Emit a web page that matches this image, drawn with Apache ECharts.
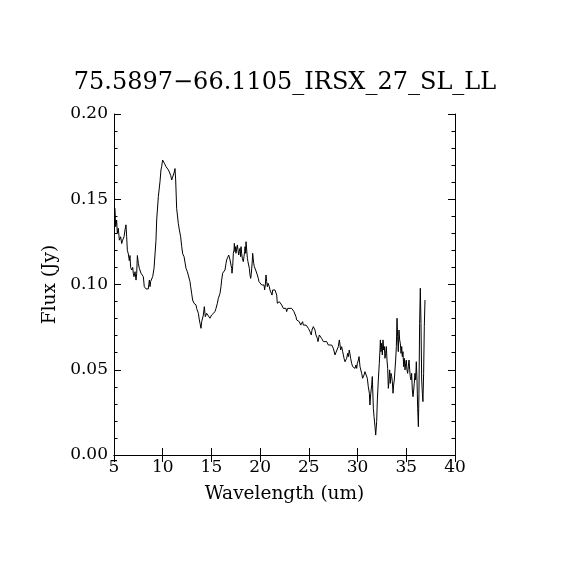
<!DOCTYPE html>
<html>
<head>
<meta charset="utf-8">
<script src="https://cdn.jsdelivr.net/npm/echarts@6/dist/echarts.min.js"></script>
<style>
html,body{margin:0;padding:0;background:#fff;}
#chart{width:570px;height:570px;}
</style>
</head>
<body>
<div id="chart"></div>
<script>
const titleText = "75.5897\u221266.1105_IRSX_27_SL_LL";
const xTickLabels = [5, 10, 15, 20, 25, 30, 35, 40];
const yTickLabels = ["0.00", "0.05", "0.10", "0.15", "0.20"];

const wavelength = [
  5.10,5.17,5.27,5.34,5.44,5.55,5.68,5.79,5.89,6.03,6.13,6.23,6.30,6.37,6.47,6.57,6.64,6.71,6.81,6.92,
  6.98,7.05,7.16,7.26,7.33,7.40,7.50,7.60,7.67,7.77,7.87,8.01,8.11,8.29,8.52,8.63,8.70,8.76,8.87,8.97,
  9.11,9.21,9.31,9.38,9.55,9.72,9.82,9.89,9.99,10.06,10.17,10.23,10.34,10.47,10.58,10.68,10.82,10.92,11.02,11.09,
  11.19,11.26,11.33,11.43,11.60,11.71,11.84,11.95,12.05,12.19,12.39,12.53,12.63,12.73,12.80,12.87,12.97,13.07,13.21,13.31,
  13.42,13.48,13.55,13.66,13.76,13.83,13.93,14.00,14.10,14.17,14.27,14.37,14.51,14.68,14.85,15.02,15.19,15.37,15.47,15.61,
  15.71,15.88,
  15.98,16.05,16.15,16.29,16.39,16.50,16.56,16.67,16.77,16.84,16.91,17.01,17.08,17.11,17.18,17.25,17.32,17.35,17.42,17.49,
  17.52,17.59,17.66,17.73,17.80,17.86,17.93,18.00,18.04,18.10,18.17,18.24,18.27,18.34,18.41,18.45,18.51,18.55,18.62,18.69,
  18.75,18.82,18.89,18.96,19.03,19.10,19.16,19.20,19.23,19.30,19.34,19.40,19.47,19.54,19.64,19.71,19.81,19.88,19.99,20.05,
  20.16,20.22,20.33,20.40,20.46,20.53,20.60,20.67,20.74,20.81,20.87,20.94,21.01,21.08,21.15,21.22,21.29,21.35,21.42,21.52,
  21.63,21.70,21.76,21.87,21.97,22.04,22.14,22.21,22.31,22.38,22.48,22.55,22.65,22.72,22.82,22.89,22.99,23.06,23.24,23.34,
  23.41,23.47,23.58,23.68,23.75,23.85,23.92,24.02,24.09,24.16,24.26,24.36,24.43,24.50,24.60,24.71,24.77,24.84,24.95,25.05,
  25.12,25.19,25.25,25.32,25.39,25.46,25.56,25.63,25.73,25.80,25.87,25.94,26.01,26.07,
  26.14,26.31,26.49,26.66,26.83,27.00,27.17,27.34,27.51,27.68,27.85,28.02,28.13,28.20,28.26,28.37,28.47,28.54,28.61,28.71,
  28.81,28.88,28.98,29.05,29.15,29.22,29.29,29.39,29.50,29.56,29.67,29.74,29.84,29.91,29.98,30.08,30.15,30.25,30.32,30.42,
  30.52,30.59,30.66,30.76,30.93,31.00,31.10,31.21,31.27,31.34,31.45,31.51,31.62,31.69,31.79,31.86,31.96,32.03,32.13,32.23,
  32.30,
  32.34,32.40,32.47,32.54,32.61,32.68,32.75,32.81,32.88,32.95,33.02,33.09,33.16,33.23,33.29,33.36,33.43,33.50,33.57,33.64,
  33.70,33.77,33.84,33.91,33.98,34.05,34.11,34.18,34.25,34.32,34.39,34.46,34.53,34.59,34.66,34.73,34.80,34.87,34.94,35.00,
  35.07,35.14,35.21,35.28,35.35,35.41,35.48,35.55,35.62,35.69,35.76,35.82,35.89,35.96,36.03,36.10,36.17,36.24,36.30,36.37,
  36.44,36.51,36.58,36.65,36.71,36.78,36.85,36.92
];

const flux = [
  0.1447,0.1339,0.1378,0.1300,0.1330,0.1260,0.1280,0.1240,0.1260,0.1280,0.1320,0.1350,0.1280,0.1200,0.1180,0.1140,0.1170,0.1100,0.1085,0.1100,
  0.1066,0.1046,0.1075,0.1026,0.1066,0.1170,0.1124,0.1095,0.1085,0.1066,0.1066,0.1046,0.0987,0.0974,0.0974,0.1026,0.0987,0.1017,0.1007,0.1046,
  0.1095,0.1100,0.1260,0.1378,0.1515,0.1603,0.1672,0.1691,0.1730,0.1740,0.1711,0.1720,0.1691,0.1680,0.1672,0.1660,0.1640,0.1613,0.1630,0.1623,
  0.1660,0.1680,0.1613,0.1447,0.1359,0.1320,0.1280,0.1222,0.1180,0.1163,0.1095,0.1075,0.1066,0.1085,0.1017,0.0987,0.0948,0.0909,0.0890,0.0890,
  0.0880,0.0860,0.0850,0.0831,0.0792,0.0772,0.0743,0.0782,0.0772,0.0821,0.0870,0.0811,0.0831,0.0821,0.0802,0.0821,0.0831,0.0841,0.0860,0.0890,
  0.0919,0.0948,
  0.0987,0.1026,0.1066,0.1069,0.1085,0.1124,0.1144,0.1159,0.1173,0.1163,0.1144,0.1114,0.1095,0.1066,0.1105,0.1183,0.1202,0.1241,0.1193,0.1222,
  0.1183,0.1193,0.1232,0.1202,0.1173,0.1193,0.1212,0.1163,0.1222,0.1183,0.1154,0.1144,0.1134,0.1163,0.1193,0.1222,0.1183,0.1251,0.1202,0.1154,
  0.1134,0.1124,0.1095,0.1056,0.1036,0.1066,0.1075,0.1144,0.1183,0.1173,0.1124,0.1105,0.1095,0.1085,0.1075,0.1056,0.1036,0.1017,0.1007,0.1017,
  0.0997,0.1007,0.0987,0.0997,0.0968,0.0997,0.1056,0.1017,0.0987,0.1007,0.0997,0.0987,0.0968,0.0978,0.0958,0.0938,0.0968,0.0978,0.0958,0.0968,
  0.0958,0.0938,0.0890,0.0880,0.0899,0.0909,0.0899,0.0880,0.0890,0.0860,0.0870,0.0851,0.0860,0.0841,0.0860,0.0860,0.0870,0.0870,0.0860,0.0870,
  0.0860,0.0841,0.0831,0.0811,0.0792,0.0792,0.0782,0.0782,0.0772,0.0762,0.0772,0.0782,0.0762,0.0772,0.0753,0.0762,0.0753,0.0762,0.0743,0.0733,
  0.0723,0.0733,0.0704,0.0733,0.0743,0.0753,0.0743,0.0733,0.0704,0.0694,0.0684,0.0665,0.0665,0.0704,
  0.0704,0.0684,0.0665,0.0655,0.0665,0.0645,0.0635,0.0645,0.0626,0.0587,0.0577,0.0635,0.0675,0.0645,0.0616,0.0635,0.0606,0.0587,0.0567,0.0547,
  0.0538,0.0567,0.0596,0.0577,0.0616,0.0606,0.0567,0.0538,0.0518,0.0508,0.0518,0.0508,0.0528,0.0508,0.0538,0.0557,0.0577,0.0518,0.0508,0.0479,
  0.0450,0.0460,0.0469,0.0489,0.0489,0.0450,0.0401,0.0362,0.0293,0.0352,0.0411,0.0460,0.0274,0.0225,0.0166,0.0117,0.0196,0.0323,0.0440,0.0538,
  0.0616,
  0.0675,0.0606,0.0655,0.0587,0.0675,0.0616,0.0636,0.0567,0.0596,0.0636,0.0557,0.0508,0.0391,0.0440,0.0499,0.0420,0.0479,0.0460,0.0430,0.0362,
  0.0411,0.0440,0.0499,0.0557,0.0636,0.0802,0.0694,0.0606,0.0733,0.0675,0.0655,0.0596,0.0636,0.0577,0.0606,0.0518,0.0567,0.0499,0.0538,0.0557,
  0.0499,0.0479,0.0518,0.0557,0.0499,0.0460,0.0440,0.0479,0.0381,0.0342,0.0381,0.0420,0.0479,0.0440,0.0547,0.0440,0.0274,0.0166,0.0362,0.0772,
  0.0978,0.0772,0.0440,0.0362,0.0313,0.0479,0.0753,0.0909
];

const seriesData = wavelength.map((w, i) => [w, flux[i]]);

const fontFamily = "DejaVu Serif";
const chart = echarts.init(document.getElementById('chart'), null, {renderer: 'canvas'});

const axisLineStyle = {show: true, lineStyle: {color: '#000', width: 1}};
const xMin = xTickLabels[0], xMax = xTickLabels[xTickLabels.length - 1];
const xInterval = xTickLabels[1] - xTickLabels[0];
const yMin = parseFloat(yTickLabels[0]), yMax = parseFloat(yTickLabels[yTickLabels.length - 1]);
const yInterval = parseFloat(yTickLabels[1]) - parseFloat(yTickLabels[0]);

chart.setOption({
  backgroundColor: '#fff',
  animation: false,
  title: {
    text: titleText,
    left: 'center',
    top: 66,
    textStyle: {fontFamily: fontFamily, fontSize: 24, fontWeight: 'normal', color: '#000'}
  },
  grid: {left: 114, right: 115, top: 114, bottom: 115, containLabel: false},
  xAxis: [
    {
      type: 'value', min: xMin, max: xMax, interval: xInterval, position: 'bottom',
      name: 'Wavelength (um)', nameLocation: 'middle', nameGap: 30,
      nameTextStyle: {fontFamily: fontFamily, fontSize: 18.5, color: '#000'},
      axisLine: axisLineStyle,
      axisTick: {show: true, inside: true, length: 7, lineStyle: {color: '#000'}},
      axisLabel: {show: true, fontFamily: fontFamily, fontSize: 17, color: '#000', margin: 4},
      splitLine: {show: false}
    },
    {
      type: 'value', min: xMin, max: xMax, interval: xInterval, position: 'top',
      axisLine: axisLineStyle,
      axisTick: {show: true, inside: true, length: 7, lineStyle: {color: '#000'}},
      axisLabel: {show: false},
      splitLine: {show: false}
    }
  ],
  yAxis: [
    {
      type: 'value', min: yMin, max: yMax, interval: yInterval, position: 'left',
      name: 'Flux (Jy)', nameLocation: 'middle', nameGap: 49, nameRotate: 90,
      nameTextStyle: {fontFamily: fontFamily, fontSize: 18.5, color: '#000'},
      axisLine: axisLineStyle,
      axisTick: {show: true, inside: true, length: 7, lineStyle: {color: '#000'}},
      minorTick: {show: true, splitNumber: 5, length: 3.5, lineStyle: {color: '#000'}},
      axisLabel: {show: true, fontFamily: fontFamily, fontSize: 17, color: '#000', margin: 6,
        formatter: v => v.toFixed(2)},
      splitLine: {show: false}
    },
    {
      type: 'value', min: yMin, max: yMax, interval: yInterval, position: 'right',
      axisLine: axisLineStyle,
      axisTick: {show: true, inside: true, length: 7, lineStyle: {color: '#000'}},
      minorTick: {show: true, splitNumber: 5, length: 3.5, lineStyle: {color: '#000'}},
      axisLabel: {show: false},
      splitLine: {show: false}
    }
  ],
  series: [{
    type: 'line',
    xAxisIndex: 0, yAxisIndex: 0,
    data: seriesData,
    showSymbol: false,
    symbol: 'none',
    lineStyle: {color: '#000', width: 1},
    silent: true
  }]
});
</script>
</body>
</html>
